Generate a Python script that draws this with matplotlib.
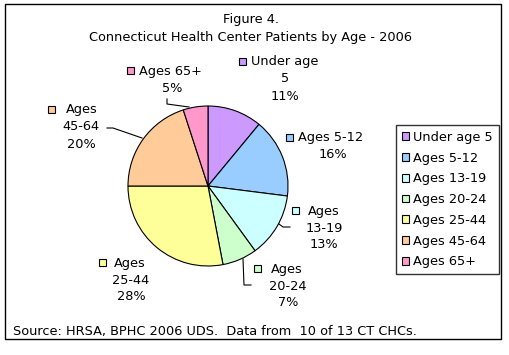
import matplotlib
matplotlib.use("Agg")
import matplotlib.pyplot as plt
from matplotlib.patches import Rectangle, Patch

categories = ["Under age 5", "Ages 5-12", "Ages 13-19", "Ages 20-24",
              "Ages 25-44", "Ages 45-64", "Ages 65+"]
values = [11, 16, 13, 7, 28, 20, 5]
colors = ["#CC99FF", "#99CCFF", "#CCFFFF", "#CCFFCC", "#FFFF99", "#FFCC99", "#FF99CC"]
# pie label lines (first line gets the colour square)
label_lines = [["Under age", "5"], ["Ages 5-12"], ["Ages", "13-19"], ["Ages", "20-24"],
               ["Ages", "25-44"], ["Ages", "45-64"], ["Ages 65+"]]
title_lines = ["Figure 4.", "Connecticut Health Center Patients by Age - 2006"]
source = "Source: HRSA, BPHC 2006 UDS.  Data from  10 of 13 CT CHCs."

W, H = 510, 355
FS = 9.3
plt.rcParams['font.family'] = ['DejaVu Sans']

fig = plt.figure(figsize=(W / 100, H / 100), dpi=100)
ax = fig.add_axes([0, 0, 1, 1])
ax.set_xlim(0, W)
ax.set_ylim(H, 0)
ax.axis("off")

# outer border
ax.add_patch(Rectangle((5, 4), 496, 335, fill=False, edgecolor="black", lw=1))

# titles
ax.text(251, 20, title_lines[0], ha="center", va="center", fontsize=FS)
ax.text(251, 37, title_lines[1], ha="center", va="center", fontsize=FS)
ax.text(13, 331, source, ha="left", va="center", fontsize=FS)

# pie: separate axes in pixel coordinates (y up)
pax = fig.add_axes([0, 0, 1, 1])
cx, cy, r = 208, H - 186, 80
pax.pie(values, colors=colors, startangle=90, counterclock=False,
        center=(cx, cy), radius=r, frame=True,
        wedgeprops=dict(edgecolor="black", linewidth=0.8))
pax.set_xlim(0, W)
pax.set_ylim(0, H)
pax.set_aspect("equal")
pax.axis("off")

# data labels: (square x, first line y, first text x, centre x of other lines)
label_pos = [
    (239, 62, 251, 285),
    (286, 138, 298, 333),
    (292, 211, 308, 324),
    (254, 269, 271, 288),
    (99, 263, 114, 131),
    (48, 110, 66, 81),
    (127, 71, 139, 172),
]
leaders = [
    None,
    None,
    [(279, 224), (283, 227), (290, 227)],
    [(243, 259), (244, 285), (251, 285)],
    None,
    [(107, 128), (113, 128), (142, 138)],
    [(167, 99), (167, 104), (189, 107)],
]
LS = 17
for i, (sx, y0, fx, tx) in enumerate(label_pos):
    lines = label_lines[i] + [f"{values[i]}%"]
    for j, ln in enumerate(lines):
        if j == 0:
            ax.add_patch(Rectangle((sx, y0 - 4), 7, 7, facecolor=colors[i],
                                   edgecolor="black", lw=0.8))
            ax.text(fx, y0, ln, ha="left", va="center", fontsize=FS)
        else:
            ax.text(tx, y0 + LS * j, ln, ha="center", va="center", fontsize=FS)
    if leaders[i]:
        xs, ys = zip(*leaders[i])
        ax.plot(xs, ys, color="black", lw=0.8)

# legend
handles = [Patch(facecolor=c, edgecolor="black", lw=0.8) for c in colors]
leg = ax.legend(handles, categories, loc="upper left",
                bbox_to_anchor=(396 / W, 1 - 125 / H), bbox_transform=fig.transFigure,
                fontsize=FS, frameon=True, fancybox=False, edgecolor="black",
                handlelength=0.55, handleheight=0.55, handletextpad=0.35,
                labelspacing=0.6, borderpad=0.45, borderaxespad=0)
leg.get_frame().set_linewidth(1)

fig.savefig("out.png", dpi=100)
